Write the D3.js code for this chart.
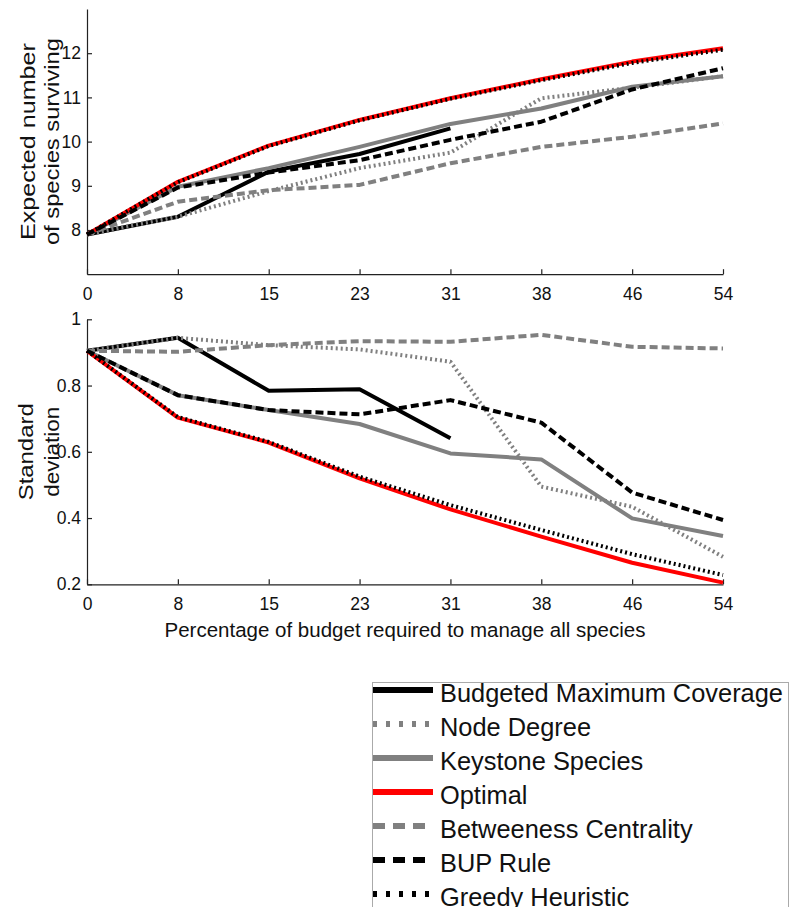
<!DOCTYPE html>
<html>
<head>
<meta charset="utf-8">
<script src="https://cdn.jsdelivr.net/npm/d3@7"></script>
<style>
  body { margin: 0; background: #fff; }
  svg { display: block; font-family: "Liberation Sans", Arial, Helvetica, sans-serif; }
</style>
</head>
<body>
<svg id="chart"></svg>
<script>
// Budget levels (x tick labels, equally spaced)
const budgetLabels = ["0", "8", "15", "23", "31", "38", "46", "54"];

// Series names in legend order
const seriesNames = [
  "Budgeted Maximum Coverage", "Node Degree", "Keystone Species", "Optimal",
  "Betweeness Centrality", "BUP Rule", "Greedy Heuristic"
];

// Expected number of species surviving (top panel)
const meanBMC      = [7.9, 8.30, 9.32, 9.72, 10.30, null, null, null];
const meanNode     = [7.9, 8.30, 8.88, 9.40, 9.75, 10.98, 11.22, 11.48];
const meanKeystone = [7.9, 8.98, 9.40, 9.88, 10.40, 10.75, 11.24, 11.48];
const meanOptimal  = [7.9, 9.09, 9.91, 10.49, 10.98, 11.41, 11.81, 12.11];
const meanBetween  = [7.9, 8.64, 8.90, 9.02, 9.51, 9.88, 10.11, 10.41];
const meanBUP      = [7.9, 8.96, 9.30, 9.58, 10.04, 10.45, 11.18, 11.66];
const meanGreedy   = [7.9, 9.08, 9.90, 10.48, 10.97, 11.39, 11.78, 12.08];

// Standard deviation (bottom panel)
const sdBMC      = [0.905, 0.944, 0.784, 0.789, 0.641, null, null, null];
const sdNode     = [0.905, 0.944, 0.922, 0.909, 0.872, 0.495, 0.434, 0.283];
const sdKeystone = [0.905, 0.771, 0.726, 0.684, 0.595, 0.577, 0.399, 0.346];
const sdOptimal  = [0.905, 0.703, 0.628, 0.520, 0.426, 0.344, 0.265, 0.205];
const sdBetween  = [0.905, 0.902, 0.922, 0.934, 0.932, 0.953, 0.917, 0.912];
const sdBUP      = [0.905, 0.771, 0.726, 0.713, 0.756, 0.688, 0.477, 0.394];
const sdGreedy   = [0.905, 0.705, 0.630, 0.525, 0.439, 0.364, 0.291, 0.228];

const meanTicks = [8, 9, 10, 11, 12];
const sdTicks = [0.2, 0.4, 0.6, 0.8, 1];

// line styles per series
const styles = [
  { color: "#000000", dash: null,  legendDash: null },
  { color: "#808080", dash: "2,3", legendDash: "4,9" },
  { color: "#808080", dash: null,  legendDash: null },
  { color: "#ff0000", dash: null,  legendDash: null },
  { color: "#808080", dash: "8,4", legendDash: "12,8" },
  { color: "#000000", dash: "8,4", legendDash: "12,8" },
  { color: "#000000", dash: "2,3", legendDash: "4,9" }
];

const width = 797, height = 907;
const svg = d3.select("#chart").attr("width", width).attr("height", height);

const x = d3.scaleLinear().domain([0, budgetLabels.length - 1]).range([87, 723]);

function drawPanel(yScale, ticks, seriesList, labelLines, labelBase, labelLengths, tickFmt) {
  const g = svg.append("g");

  // axes
  const xAxis = d3.axisBottom(x)
    .tickValues(d3.range(budgetLabels.length))
    .tickFormat(i => budgetLabels[i])
    .tickSizeInner(-5).tickSizeOuter(0).tickPadding(13);
  const yAxis = d3.axisLeft(yScale)
    .tickValues(ticks).tickFormat(tickFmt)
    .tickSizeInner(-5).tickSizeOuter(0).tickPadding(6);

  const gx = g.append("g")
    .attr("transform", `translate(0,${yScale.range()[0]})`)
    .call(xAxis);
  const gy = g.append("g")
    .attr("transform", `translate(${x.range()[0]},0)`)
    .call(yAxis);

  [gx, gy].forEach(a => {
    a.select(".domain").attr("stroke", "#222").attr("stroke-width", 1.2);
    a.selectAll(".tick line").attr("stroke", "#222").attr("stroke-width", 1.2);
    a.selectAll(".tick text").attr("fill", "#111").style("font-size", "17.5px")
      .style("font-family", "'Liberation Sans', Arial, sans-serif");
  });

  // lines
  const line = d3.line()
    .defined(d => d != null)
    .x((d, i) => x(i))
    .y(d => yScale(d));

  seriesList.forEach((vals, k) => {
    g.append("path")
      .datum(vals)
      .attr("fill", "none")
      .attr("stroke", styles[k].color)
      .attr("stroke-width", 4)
      .attr("stroke-dasharray", styles[k].dash)
      .attr("stroke-linejoin", "round")
      .attr("d", line);
  });

  // y label
  const cy = (yScale.range()[0] + yScale.range()[1]) / 2;
  labelLines.forEach((t, i) => {
    g.append("text")
      .attr("transform", `translate(${labelBase[i]},${cy}) rotate(-90)`)
      .attr("text-anchor", "middle")
      .attr("textLength", labelLengths[i])
      .attr("lengthAdjust", "spacingAndGlyphs")
      .style("font-size", "20px")
      .attr("fill", "#111")
      .text(t);
  });
}

const yTop = d3.scaleLinear().domain([7, 13]).range([274.2, 9]);
const yBot = d3.scaleLinear().domain([0.2, 1]).range([584.3, 319.3]);

drawPanel(yTop, meanTicks,
  [meanBMC, meanNode, meanKeystone, meanOptimal, meanBetween, meanBUP, meanGreedy],
  ["Expected number", "of species surviving"], [35, 59], [197, 207], d3.format("d"));

drawPanel(yBot, sdTicks,
  [sdBMC, sdNode, sdKeystone, sdOptimal, sdBetween, sdBUP, sdGreedy],
  ["Standard", "deviation"], [33, 59], [97, 90], d => d === 1 ? "1" : d3.format(".1f")(d));

// x axis label
svg.append("text")
  .attr("x", (x.range()[0] + x.range()[1]) / 2)
  .attr("y", 637)
  .attr("text-anchor", "middle")
  .style("font-size", "20.5px")
  .attr("fill", "#111")
  .text("Percentage of budget required to manage all species");

// legend
const legend = svg.append("g");
legend.append("rect")
  .attr("x", 372.5).attr("y", 682.5)
  .attr("width", 416).attr("height", 260)
  .attr("fill", "#fff").attr("stroke", "#aaa").attr("stroke-width", 1);

seriesNames.forEach((name, k) => {
  const yy = 690 + k * 34;
  legend.append("line")
    .attr("x1", 373).attr("x2", 433)
    .attr("y1", yy).attr("y2", yy)
    .attr("stroke", styles[k].color)
    .attr("stroke-width", 6)
    .attr("stroke-dasharray", styles[k].legendDash);
  legend.append("text")
    .attr("x", 440).attr("y", yy + 12)
    .style("font-size", "25.4px")
    .attr("fill", "#111")
    .text(name);
});
</script>
</body>
</html>
